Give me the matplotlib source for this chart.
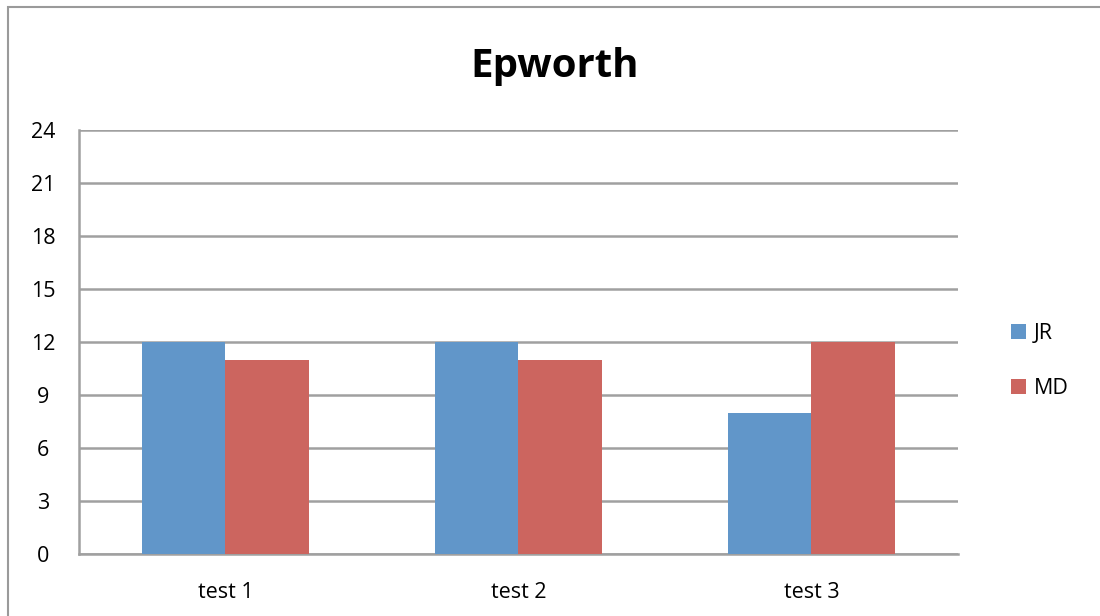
import numpy as np
import matplotlib.pyplot as plt
from matplotlib.patches import Rectangle

# Epworth scores per test
categories = ['test 1', 'test 2', 'test 3']
jr_scores = [12, 12, 8]
md_scores = [11, 11, 12]
y_ticks = [0, 3, 6, 9, 12, 15, 18, 21, 24]

blue = '#6196C9'
red = '#CC655F'
grid_gray = '#A0A0A0'

plt.rcParams['font.family'] = ['Open Sans', 'DejaVu Sans']

fig = plt.figure(figsize=[11, 6.16], dpi=100)
W, H = 1100, 616

# outer chart border, cut off at right and bottom
fig.patches.append(Rectangle((8 / W, -0.1), 1.2, (616 - 7) / H + 0.1,
                             transform=fig.transFigure, fill=False,
                             edgecolor='#9A9A9A', linewidth=1.5))

ax = fig.add_axes([79 / W, (H - 554) / H, (958 - 79) / W, (554 - 130) / H])

x = np.arange(len(categories))
width = 1 / 3.5
ax.bar(x - width / 2, jr_scores, width, color=blue, label='JR', zorder=3)
ax.bar(x + width / 2, md_scores, width, color=red, label='MD', zorder=3)

ax.set_xlim(-0.5, len(categories) - 0.5)
ax.set_ylim(0, 24)
ax.set_yticks(y_ticks)
ax.set_xticks(x)
ax.set_xticklabels(categories)
ax.tick_params(axis='both', length=0, labelsize=15.5, colors='black')
ax.tick_params(axis='y', pad=26)
ax.tick_params(axis='x', pad=20)
for lbl in ax.get_yticklabels():
    lbl.set_horizontalalignment('center')

ax.yaxis.grid(True, color=grid_gray, linewidth=1.8, zorder=0)
for side in ['top', 'right']:
    ax.spines[side].set_visible(False)
for side in ['left', 'bottom']:
    ax.spines[side].set_color(grid_gray)
    ax.spines[side].set_linewidth(1.8)

fig.text(555 / W, 1 - 66 / H, 'Epworth', ha='center', va='center',
         fontsize=29, fontweight='bold')

ax.legend(loc='center left', bbox_to_anchor=(1.038, 0.455), frameon=False,
          fontsize=15.5, handlelength=0.7, handleheight=0.7,
          handletextpad=0.35, labelspacing=1.6)

plt.savefig('out.png', dpi=100)
